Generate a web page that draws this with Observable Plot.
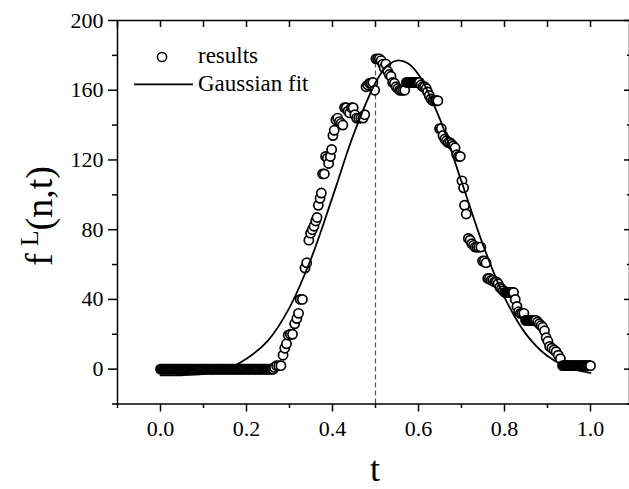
<!DOCTYPE html>
<html><head><meta charset="utf-8">
<script src="https://cdn.jsdelivr.net/npm/d3@7"></script>
<script src="https://cdn.jsdelivr.net/npm/@observablehq/plot@0.6"></script>
<style>
html,body{margin:0;padding:0;background:#fff;overflow:hidden}
#chart svg, #chart svg text{font-family:'Liberation Serif','Times New Roman',serif !important;}
</style>
</head><body><div id="chart"></div>
<script>
// ---- data ----
const resultT = [
  0,0.0025,0.005,0.0075,0.01,0.0125,0.015,0.0175,0.02,0.0225,0.025,0.0275,0.03,0.0325,0.035,0.0375,0.04,0.0425,0.045,0.0475,
  0.05,0.0525,0.055,0.0575,0.06,0.0625,0.065,0.0675,0.07,0.0725,0.075,0.0775,0.08,0.0825,0.085,0.0875,0.09,0.0925,0.095,0.0975,
  0.1,0.1025,0.105,0.1075,0.11,0.1125,0.115,0.1175,0.12,0.1225,0.125,0.1275,0.13,0.1325,0.135,0.1375,0.14,0.1425,0.145,0.1475,
  0.15,0.1525,0.155,0.1575,0.16,0.1625,0.165,0.1675,0.17,0.1725,0.175,0.1775,0.18,0.1825,0.185,0.1875,0.19,0.1925,0.195,0.1975,
  0.2,0.2025,0.205,0.2075,0.21,0.2125,0.215,0.2175,0.22,0.2225,0.225,0.2275,0.23,0.2325,0.235,0.2375,0.24,0.2425,0.245,0.2475,
  0.25,0.2525,0.255,0.2575,0.26,0.2625,
  0.265,0.27,0.275,0.28,0.285,0.289,0.293,0.297,0.302,0.307,0.312,0.317,0.321,0.325,0.33,0.336,0.34,
  0.345,0.349,0.353,0.357,0.361,0.364,0.367,0.371,0.374,0.377,0.381,0.384,0.388,0.391,0.395,0.398,
  0.401,0.404,0.408,0.412,0.416,0.42,0.424,0.428,0.432,0.436,0.44,0.444,0.448,0.452,0.456,0.461,0.466,0.471,
  0.475,0.478,0.482,0.486,0.49,0.494,0.498,0.501,0.505,0.509,0.513,0.517,0.52,0.524,0.528,0.532,0.536,
  0.54,0.544,0.548,0.552,0.556,0.56,0.564,0.568,
  0.572,0.5745,0.577,0.5795,0.582,0.5845,0.587,0.5895,0.592,0.5945,0.597,0.5995,0.602,
  0.606,0.61,0.614,0.618,0.621,0.625,0.629,0.633,0.637,0.641,0.645,
  0.649,0.653,0.657,0.661,0.665,0.669,0.673,0.677,0.681,0.685,0.689,0.693,0.697,
  0.701,0.705,0.707,0.711,0.716,0.72,0.724,0.728,0.732,0.736,0.74,0.745,0.749,0.753,0.757,
  0.761,0.765,0.769,0.773,0.777,0.781,0.785,0.789,0.793,0.797,
  0.801,0.803,0.805,0.807,0.809,0.811,0.813,0.815,0.817,0.819,0.821,
  0.825,0.829,0.833,0.837,0.841,0.845,
  0.849,0.851,0.853,0.855,0.857,0.859,0.861,0.863,0.865,0.867,0.869,0.871,0.873,
  0.877,0.881,0.885,0.889,0.893,0.897,0.901,0.905,0.91,0.915,0.92,0.925,0.93,
  0.935,0.9375,0.94,0.9425,0.945,0.9475,0.95,0.9525,0.955,0.9575,0.96,0.9625,0.965,0.9675,0.97,0.9725,0.975,0.9775,0.98,0.9825,0.985,0.9875,0.99,0.9925,0.995,0.9975,1.0
];
const resultV = [
  0,0,0,0,0,0,0,0,0,0,0,0,0,0,0,0,0,0,0,0,
  0,0,0,0,0,0,0,0,0,0,0,0,0,0,0,0,0,0,0,0,
  0,0,0,0,0,0,0,0,0,0,0,0,0,0,0,0,0,0,0,0,
  0,0,0,0,0,0,0,0,0,0,0,0,0,0,0,0,0,0,0,0,
  0,0,0,0,0,0,0,0,0,0,0,0,0,0,0,0,0,0,0,0,
  0,0,0,0,0,0,
  1,2,2,2,8,12,14.5,19.5,20,20,26,29,32,40,40,58,61,
  74,78,80,82,85,87,94,98,101,112,112,122,121,118,122,126,
  134,137,143,144,142,141,140,150,150,148,147,150,150,146,144,144,144,144,
  146,162,163,164,164,164.5,160,178,178,178,177,175,173,175,171,169,168,
  164.5,164,162,161,160,160,160,160,
  164.5,164.5,164.5,164.5,164.5,164.5,164.5,164.5,164.5,164.5,164.5,164.5,164.5,
  163,162,162,161,159,157,155,154,154,154,154,
  138,138,134,132,131,130,130,129,128,127,123,122,122,
  108,104,94,89,75,74,72,71,70,70,70,70,62,62,61,
  52,52,51,51,50,50,49,47,46,45,
  44,44,44,44,44,44,44,44,44,44,44,
  40,36,33,32,32,32,
  28,28,28,28,28,28,28,28,28,28,28,28,28,
  27,26,25,24,22,18,16,13,12,11,10,8,6,
  2,2,2,2,2,2,2,2,2,2,2,2,2,2,2,2,2,2,2,2,2,2,2,2,2,2,2
];
const fitT = [0,0.05,0.1,0.15,0.2,0.25,0.3,0.35,0.4,0.45,0.5,0.525,0.55,0.575,0.6,0.65,0.7,0.75,0.8,0.85,0.9,0.95,1.0];
const fitV = [-3.6,-3.5,-2.7,-0.3,6.0,16.4,35.3,63.3,98.7,135.3,164.3,173.5,177,175.5,169,143.3,107.6,71.3,41.2,20.1,7.5,0.9,-2.2];
const xTicks = [0,0.2,0.4,0.6,0.8,1.0];
const xMinor = [-0.1,0.1,0.3,0.5,0.7,0.9,1.1];
const yTicks = [0,40,80,120,160,200];
const yMinor = [-20,20,60,100,140,180];
const xDomain = [-0.1, 1.1];
const yDomain = [-20, 200];
const markerT = 0.5, markerTop = 176;
const legendLabels = ["results", "Gaussian fit"];
const yLabel = {base: "f", sup: "L", rest: "(n,t)"};
const xLabel = "t";

if (resultT.length !== resultV.length) console.error("length mismatch", resultT.length, resultV.length);
const results = resultT.map((t, i) => ({t, v: resultV[i]}));
const fit = fitT.map((t, i) => ({t, v: fitV[i]}));
const FONT = "'Liberation Serif', 'Times New Roman', serif";

const plot = Plot.plot({
  width: 629, height: 489,
  marginLeft: 117, marginRight: 0, marginTop: 20, marginBottom: 85.5,
  style: {fontFamily: FONT, fontSize: "22px", color: "black", background: "white"},
  x: {domain: xDomain, range: [117, 633]},
  y: {domain: yDomain},
  marks: [
    Plot.ruleX([markerT], {x: d => d, y1: yDomain[0], y2: markerTop, stroke: "#555", strokeDasharray: "5,3", strokeWidth: 1.2}),
    Plot.dot(results, {x: "t", y: "v", r: 4.6, fill: "white", stroke: "black", strokeWidth: 1.7}),
    Plot.line(fit, {x: "t", y: "v", curve: "catmull-rom", stroke: "black", strokeWidth: 1.8}),
    Plot.frame({stroke: "black", strokeWidth: 1.5}),
    Plot.axisY(yTicks, {tickSize: 9, tickPadding: 5, fontSize: 22, fontFamily: FONT, label: null, strokeWidth: 1.5, tickFormat: d => String(d)}),
    Plot.axisY(yMinor, {tickSize: 5, label: null, strokeWidth: 1.5, tickFormat: () => ""}),
    Plot.axisY(yTicks, {anchor: "right", tickSize: -6, label: null, strokeWidth: 1.5, tickFormat: () => ""}),
    Plot.axisY(yMinor, {anchor: "right", tickSize: -3, label: null, strokeWidth: 1.5, tickFormat: () => ""}),
    Plot.axisX(xTicks, {tickSize: 8, tickPadding: 8.5, fontSize: 22, fontFamily: FONT, label: null, strokeWidth: 1.5, tickFormat: d3.format(".1f")}),
    Plot.axisX(xMinor, {tickSize: 4.5, label: null, strokeWidth: 1.5, tickFormat: () => ""}),
    Plot.axisX(xTicks.concat(xMinor), {anchor: "top", tickSize: -6, label: null, strokeWidth: 1.5, tickFormat: () => ""})
  ]
});
document.getElementById("chart").appendChild(plot);

// ---- titles and legend (layout) ----
const svg = d3.select(plot);
const yl = svg.append("text")
  .attr("transform", "translate(52,216) rotate(-90)")
  .attr("text-anchor", "middle").attr("font-family", FONT).attr("font-size", 38).attr("fill", "black");
yl.append("tspan").text(yLabel.base);
yl.append("tspan").attr("dx", 7).attr("dy", -14).attr("font-size", 26).text(yLabel.sup);
yl.append("tspan").attr("dy", 14).attr("font-size", 38).text(yLabel.rest);

svg.append("text").attr("x", 375).attr("y", 481).attr("text-anchor", "middle")
  .attr("font-family", FONT).attr("font-size", 36).attr("fill", "black").text(xLabel);

const lg = svg.append("g").attr("font-family", FONT).attr("font-size", 23).attr("fill", "black").attr("text-anchor", "start");
lg.append("circle").attr("cx", 162).attr("cy", 57).attr("r", 4.6).attr("fill", "white").attr("stroke", "black").attr("stroke-width", 1.5);
lg.append("text").attr("x", 198).attr("y", 63).attr("text-anchor", "start").text(legendLabels[0]);
lg.append("line").attr("x1", 134).attr("x2", 193).attr("y1", 84.3).attr("y2", 84.3).attr("stroke", "black").attr("stroke-width", 1.8);
lg.append("text").attr("x", 198).attr("y", 91).attr("text-anchor", "start").text(legendLabels[1]);
</script>
</body></html>
